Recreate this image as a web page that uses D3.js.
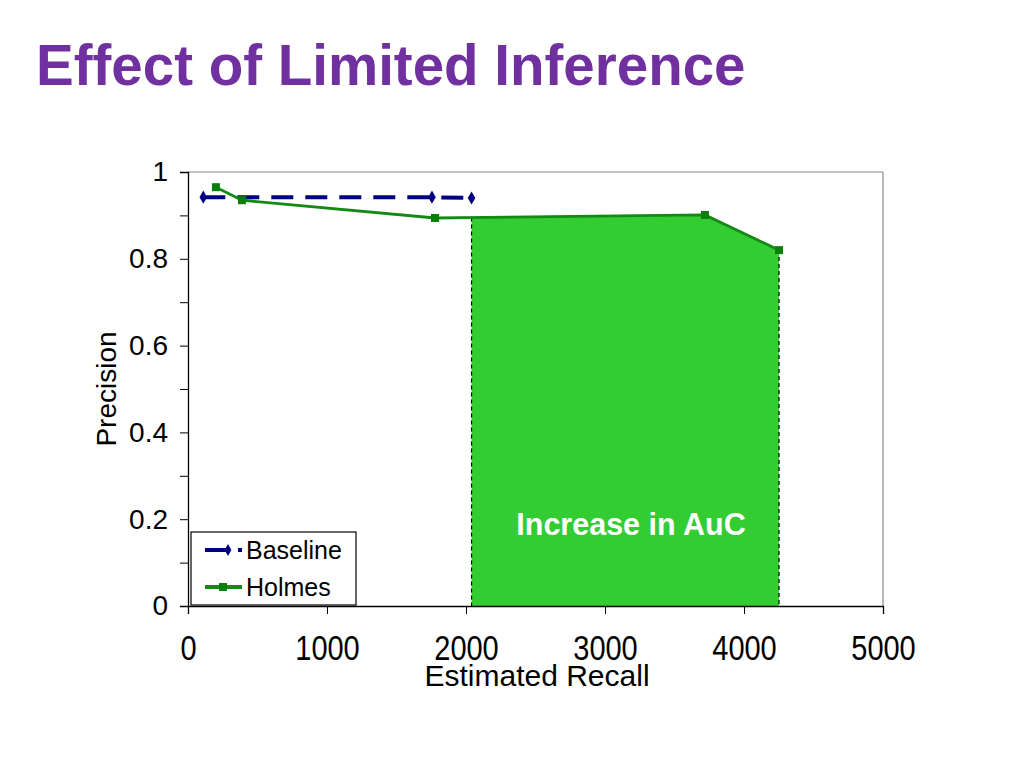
<!DOCTYPE html>
<html><head><meta charset="utf-8">
<script src="https://cdn.jsdelivr.net/npm/d3@7"></script>
<style>body{margin:0;background:#fff;} svg{display:block;font-family:"Liberation Sans",Arial,sans-serif;}</style>
</head><body>
<svg id="chart" width="1024" height="768"></svg>
<script>
const titleText = "Effect of Limited Inference";
const baselineX = [110, 1755, 2040];
const baselineY = [0.942, 0.942, 0.940];
const holmesX = [201, 388, 1777, 3719, 4252];
const holmesY = [0.965, 0.935, 0.894, 0.901, 0.820];
const xTicks = [0, 1000, 2000, 3000, 4000, 5000];
const yTicks = [0, 0.2, 0.4, 0.6, 0.8, 1];
const yMinorTicks = [0, 0.1, 0.2, 0.3, 0.4, 0.5, 0.6, 0.7, 0.8, 0.9, 1];
const seriesNames = ["Baseline", "Holmes"];
const areaLabel = "Increase in AuC";
const xLabel = "Estimated Recall";
const yLabel = "Precision";

const svg = d3.select("#chart");
const L = 188, R = 883, T = 172, B = 606;
const x = d3.scaleLinear().domain([0, 5000]).range([L, R]);
const y = d3.scaleLinear().domain([0, 1]).range([B, T]);

svg.append("text").attr("x", 36).attr("y", 85).attr("fill", "#7030a0")
  .attr("font-size", 56.5).attr("font-weight", "bold").text(titleText);

const baseline = baselineX.map((v, i) => ({x: v, y: baselineY[i]}));
const holmes = holmesX.map((v, i) => ({x: v, y: holmesY[i]}));

// plot frame
svg.append("line").attr("x1", L).attr("x2", R).attr("y1", T).attr("y2", T).attr("stroke", "#888").attr("stroke-width", 1.2);
svg.append("line").attr("x1", R).attr("x2", R).attr("y1", T).attr("y2", B).attr("stroke", "#888").attr("stroke-width", 1.2);

// area
const fillStart = baselineX[baselineX.length - 1], fillEnd = holmesX[holmesX.length - 1];
svg.append("clipPath").attr("id", "clipA").append("rect")
  .attr("x", x(fillStart)).attr("y", T).attr("width", x(fillEnd) - x(fillStart)).attr("height", B - T);
svg.append("path").datum(holmes).attr("clip-path", "url(#clipA)")
  .attr("fill", "#33cc33")
  .attr("d", d3.area().x(d => x(d.x)).y0(y(0)).y1(d => y(d.y)));
const edgeY = (xv) => {
  for (let i = 0; i < holmes.length - 1; i++) {
    const a = holmes[i], b = holmes[i + 1];
    if (xv >= a.x && xv <= b.x) return a.y + (b.y - a.y) * (xv - a.x) / (b.x - a.x);
  }
  return holmes[holmes.length - 1].y;
};
[fillStart, fillEnd].forEach(v => {
  svg.append("line").attr("x1", x(v)).attr("x2", x(v)).attr("y1", y(edgeY(v))).attr("y2", B)
    .attr("stroke", "#000").attr("stroke-width", 1.2).attr("stroke-dasharray", "4,3");
});
svg.append("text").attr("x", 631).attr("y", 535)
  .attr("text-anchor", "middle").attr("fill", "#fff").attr("font-weight", "bold").attr("font-size", 30.5)
  .text(areaLabel);

// axes
const yAxis = d3.axisLeft(y).tickValues(yMinorTicks).tickSize(8).tickFormat(d => yTicks.some(t => Math.abs(t - d) < 1e-9) ? d3.format("~g")(d) : "");
const gy = svg.append("g").attr("transform", `translate(${L},0)`).call(yAxis);
gy.selectAll("text").attr("font-size", 28).attr("font-family", "Liberation Sans, Arial, sans-serif").attr("fill", "#000").attr("dx", "-9px");
gy.select(".domain").attr("stroke-width", 1.3);

const xAxis = d3.axisBottom(x).tickValues(xTicks).tickSize(8).tickFormat(d3.format("d"));
const gx = svg.append("g").attr("transform", `translate(0,${B})`).call(xAxis);
gx.selectAll("text").attr("font-size", 29).attr("font-family", "Liberation Sans, Arial, sans-serif").attr("fill", "#000")
  .attr("y", 0).attr("dy", 0).attr("transform", "translate(0,54) scale(1,1.2)");
gx.select(".domain").attr("stroke-width", 1.3);

svg.append("text").attr("x", 537).attr("y", 686).attr("text-anchor", "middle")
  .attr("font-size", 30).text(xLabel);
svg.append("text").attr("transform", `translate(116,389) rotate(-90)`).attr("text-anchor", "middle")
  .attr("font-size", 28).text(yLabel);

// series
const line = d3.line().x(d => x(d.x)).y(d => y(d.y));
svg.append("path").datum(baseline).attr("fill", "none").attr("stroke", "#000080").attr("stroke-width", 4)
  .attr("stroke-dasharray", "22,12").attr("d", line);
svg.selectAll(".bm").data(baseline).join("path").attr("class", "bm")
  .attr("transform", d => `translate(${x(d.x)},${y(d.y)})`)
  .attr("d", d3.symbol(d3.symbolDiamond, 50)).attr("fill", "#000080");
svg.append("path").datum(holmes).attr("fill", "none").attr("stroke", "#138a13").attr("stroke-width", 2.8).attr("d", line);
svg.selectAll(".hm").data(holmes).join("rect").attr("class", "hm")
  .attr("x", d => x(d.x) - 4).attr("y", d => y(d.y) - 4).attr("width", 8).attr("height", 8).attr("fill", "#0a7f0a");

// legend
const lg = svg.append("g");
lg.append("rect").attr("x", 191).attr("y", 532).attr("width", 165).attr("height", 73)
  .attr("fill", "#fff").attr("stroke", "#000").attr("stroke-width", 1.2);
lg.append("line").attr("x1", 205).attr("x2", 230).attr("y1", 550).attr("y2", 550).attr("stroke", "#000080").attr("stroke-width", 4);
lg.append("path").attr("transform", "translate(228,550)").attr("d", d3.symbol(d3.symbolDiamond, 40)).attr("fill", "#000080");
lg.append("rect").attr("x", 238).attr("y", 548).attr("width", 4).attr("height", 4).attr("fill", "#000080");
lg.append("line").attr("x1", 205).attr("x2", 242).attr("y1", 587).attr("y2", 587).attr("stroke", "#138a13").attr("stroke-width", 4);
lg.append("rect").attr("x", 219).attr("y", 583).attr("width", 8).attr("height", 8).attr("fill", "#0a7f0a");
lg.append("text").attr("x", 246).attr("y", 559).attr("font-size", 25).text(seriesNames[0]);
lg.append("text").attr("x", 246).attr("y", 596).attr("font-size", 25).text(seriesNames[1]);
</script>
</body></html>
